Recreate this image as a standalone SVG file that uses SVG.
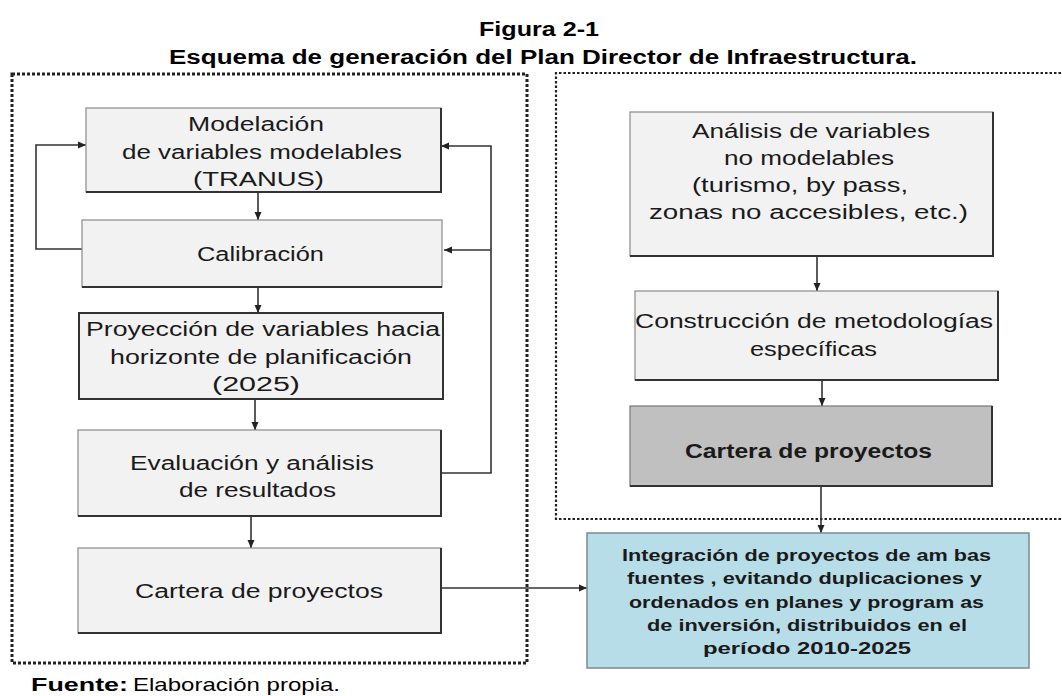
<svg xmlns="http://www.w3.org/2000/svg" width="1062" height="696" viewBox="0 0 1062 696">
<style>
.t{font-family:"Liberation Sans",Arial,sans-serif;fill:#1a1a1a;text-anchor:middle}
.r{font-size:20px}
.b{font-weight:bold}
.title{font-family:"Liberation Sans",Arial,sans-serif;font-weight:bold;font-size:20px;fill:#000;text-anchor:middle}
.box{fill:#f2f2f2;stroke:#8a8a8a;stroke-width:1.2}
.sh{fill:none;stroke:#333;stroke-width:2}
.con{fill:none;stroke:#333;stroke-width:1.6}
.dl{fill:none;stroke:#222;stroke-width:3;stroke-dasharray:3 2}
.dr{fill:none;stroke:#222;stroke-width:2.2;stroke-dasharray:2.5 2}
</style>
<defs>
<marker id="ah" markerUnits="userSpaceOnUse" markerWidth="9" markerHeight="9" refX="8" refY="4" orient="auto">
<path d="M0,0.5 L8,4 L0,7.5 z" fill="#222"/>
</marker>
</defs>
<rect width="1062" height="696" fill="#fff"/>

<g id="title">
<text class="title" x="539" y="36" textLength="120" lengthAdjust="spacingAndGlyphs">Figura 2-1</text>
<text class="title" x="543" y="64" textLength="748" lengthAdjust="spacingAndGlyphs">Esquema de generación del Plan Director de Infraestructura.</text>
</g>

<g id="frames">
<rect class="dl" x="12" y="74" width="515" height="589"/>
<path class="dr" d="M1070,73 H556 V519 H1070"/>
</g>

<g id="connectors">
<line class="con" x1="258" y1="193" x2="258" y2="220" marker-end="url(#ah)"/>
<line class="con" x1="258" y1="288" x2="258" y2="313" marker-end="url(#ah)"/>
<line class="con" x1="255" y1="400" x2="255" y2="430" marker-end="url(#ah)"/>
<line class="con" x1="251" y1="517" x2="251" y2="548" marker-end="url(#ah)"/>
<polyline class="con" points="82,249 36,249 36,145 86,145" marker-end="url(#ah)"/>
<polyline class="con" points="442,473 491,473 491,146 441,146" marker-end="url(#ah)"/>
<line class="con" x1="491" y1="250" x2="444" y2="250" marker-end="url(#ah)"/>
<line class="con" x1="442" y1="588" x2="587" y2="588" marker-end="url(#ah)"/>
<line class="con" x1="817" y1="257" x2="817" y2="291" marker-end="url(#ah)"/>
<line class="con" x1="822" y1="381" x2="822" y2="406" marker-end="url(#ah)"/>
<line class="con" x1="821" y1="487" x2="821" y2="533" marker-end="url(#ah)"/>
</g>

<g id="n-modelacion">
<rect class="box" x="86" y="108" width="355" height="84"/>
<polyline class="sh" points="86,192 441,192 441,108"/>
<text class="t r" x="256" y="131" textLength="136" lengthAdjust="spacingAndGlyphs">Modelación</text>
<text class="t r" x="262" y="158.5" textLength="280" lengthAdjust="spacingAndGlyphs">de variables modelables</text>
<text class="t r" x="258.5" y="186" textLength="131" lengthAdjust="spacingAndGlyphs">(TRANUS)</text>
</g>

<g id="n-calibracion">
<rect class="box" x="82" y="220" width="360" height="67"/>
<polyline class="sh" points="82,287 442,287"/>
<text class="t r" x="260.5" y="261" textLength="127" lengthAdjust="spacingAndGlyphs">Calibración</text>
</g>

<g id="n-proyeccion">
<rect class="box" x="79" y="313" width="364" height="86" style="stroke:#333;stroke-width:2"/>
<text class="t r" x="263" y="336" textLength="354" lengthAdjust="spacingAndGlyphs">Proyección de variables hacia</text>
<text class="t r" x="261" y="364" textLength="302" lengthAdjust="spacingAndGlyphs">horizonte de planificación</text>
<text class="t r" x="256" y="391" textLength="88" lengthAdjust="spacingAndGlyphs">(2025)</text>
</g>

<g id="n-evaluacion">
<rect class="box" x="78" y="430" width="363" height="86"/>
<polyline class="sh" points="78,516 441,516 441,430"/>
<text class="t r" x="252" y="470" textLength="244" lengthAdjust="spacingAndGlyphs">Evaluación y análisis</text>
<text class="t r" x="257.5" y="497" textLength="157" lengthAdjust="spacingAndGlyphs">de resultados</text>
</g>

<g id="n-cartera-izq">
<rect class="box" x="78" y="548" width="363" height="85"/>
<polyline class="sh" points="78,633 441,633 441,548"/>
<text class="t r" x="259" y="598" textLength="248" lengthAdjust="spacingAndGlyphs">Cartera de proyectos</text>
</g>

<g id="n-analisis">
<rect class="box" x="630" y="112" width="363" height="144"/>
<polyline class="sh" points="630,256 993,256 993,112"/>
<text class="t r" x="811" y="138" textLength="238" lengthAdjust="spacingAndGlyphs">Análisis de variables</text>
<text class="t r" x="809" y="165" textLength="170" lengthAdjust="spacingAndGlyphs">no modelables</text>
<text class="t r" x="800" y="192" textLength="216" lengthAdjust="spacingAndGlyphs">(turismo, by pass,</text>
<text class="t r" x="808.5" y="219" textLength="319" lengthAdjust="spacingAndGlyphs">zonas no accesibles, etc.)</text>
</g>

<g id="n-construccion">
<rect class="box" x="635" y="291" width="363" height="89"/>
<polyline class="sh" points="635,380 998,380 998,291"/>
<text class="t r" x="814" y="328" textLength="358" lengthAdjust="spacingAndGlyphs">Construcción de metodologías</text>
<text class="t r" x="813.5" y="356" textLength="127" lengthAdjust="spacingAndGlyphs">específicas</text>
</g>

<g id="n-cartera-der">
<rect x="630" y="406" width="362" height="80" fill="#c0c0c0" stroke="#777" stroke-width="1.2"/>
<polyline class="sh" points="630,486 992,486 992,406"/>
<text class="t r b" x="808.5" y="458" textLength="247" lengthAdjust="spacingAndGlyphs">Cartera de proyectos</text>
</g>

<g id="n-integracion">
<rect x="587" y="533" width="442" height="135" fill="#b7dde8" stroke="#7a8a90" stroke-width="1.5"/>
<text class="t b" style="font-size:17px" x="806.5" y="561" textLength="369" lengthAdjust="spacingAndGlyphs">Integración de proyectos de am bas</text>
<text class="t b" style="font-size:17px" x="804.5" y="584" textLength="355" lengthAdjust="spacingAndGlyphs">fuentes , evitando duplicaciones y</text>
<text class="t b" style="font-size:17px" x="806.5" y="608" textLength="355" lengthAdjust="spacingAndGlyphs">ordenados en planes y program as</text>
<text class="t b" style="font-size:17px" x="807" y="631" textLength="320" lengthAdjust="spacingAndGlyphs">de inversión, distribuidos en el</text>
<text class="t b" style="font-size:17px" x="807" y="654" textLength="208" lengthAdjust="spacingAndGlyphs">período 2010-2025</text>
</g>

<g id="source">
<text x="31" y="691" style="font-family:'Liberation Sans',Arial,sans-serif;font-size:19px;font-weight:bold;fill:#000" textLength="97" lengthAdjust="spacingAndGlyphs">Fuente:</text>
<text x="133" y="691" style="font-family:'Liberation Sans',Arial,sans-serif;font-size:19px;fill:#000" textLength="207" lengthAdjust="spacingAndGlyphs">Elaboración propia.</text>
</g>
</svg>
